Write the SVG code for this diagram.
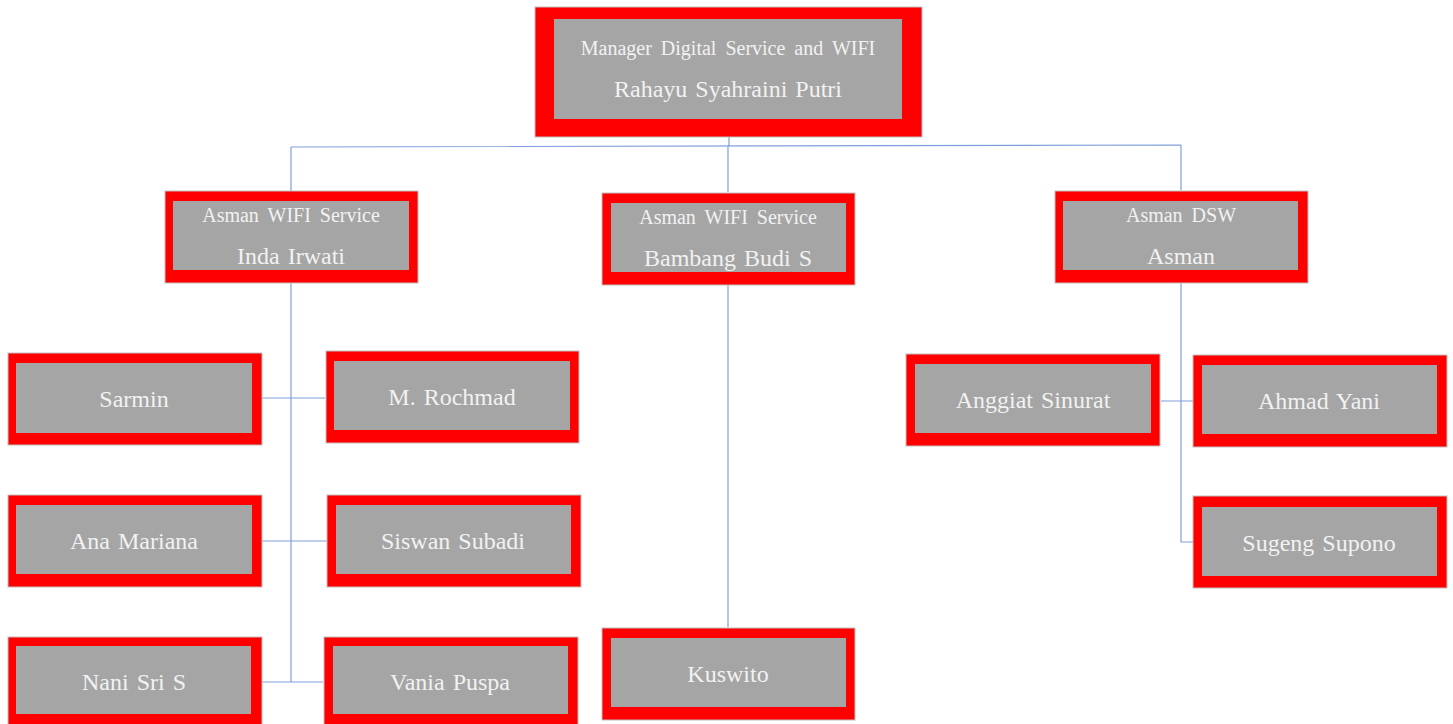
<svg xmlns="http://www.w3.org/2000/svg" width="1453" height="724" viewBox="0 0 1453 724">
<style>
.o{fill:#ff0000;stroke:#bfbfbf;stroke-width:1}
.i{fill:#a5a5a5}
.t{font-family:"Liberation Serif","Times New Roman",serif;fill:#f2f2f2;text-anchor:middle}
.s{font-size:20px;word-spacing:4px}
.n{font-size:24px;word-spacing:2px}
.c{fill:none;stroke:#7f9fdc;stroke-width:1.2}
</style>
<rect width="1453" height="724" fill="#ffffff"/>
<g id="connectors">
<path class="c" d="M729,137 V146 M291,147 L1181,145 M291,147 V191 M728,146 V192 M1181,145 V190"/>
<path class="c" d="M291,283 V682 M252,398 H325 M262,541 H327 M262,682 H323"/>
<path class="c" d="M728,285 V627"/>
<path class="c" d="M1181,283 V542 H1193 M1161,401 H1193"/>
</g>
<g id="manager">
<rect class="o" x="535" y="7" width="387" height="130"/>
<rect class="i" x="554" y="19" width="348" height="100"/>
<text class="t s" x="728" y="55">Manager Digital Service and WIFI</text>
<text class="t n" x="728" y="97">Rahayu Syahraini Putri</text>
</g>
<g id="inda">
<rect class="o" x="165" y="191" width="253" height="92"/>
<rect class="i" x="173" y="201" width="236" height="69"/>
<text class="t s" x="291" y="222">Asman WIFI Service</text>
<text class="t n" x="291" y="264">Inda Irwati</text>
</g>
<g id="bambang">
<rect class="o" x="602" y="193" width="253" height="92"/>
<rect class="i" x="611" y="203" width="235" height="69"/>
<text class="t s" x="728" y="224">Asman WIFI Service</text>
<text class="t n" x="728" y="266">Bambang Budi S</text>
</g>
<g id="asman">
<rect class="o" x="1055" y="191" width="253" height="92"/>
<rect class="i" x="1063" y="201" width="235" height="69"/>
<text class="t s" x="1181" y="222">Asman DSW</text>
<text class="t n" x="1181" y="264">Asman</text>
</g>
<g id="sarmin">
<rect class="o" x="8" y="353" width="254" height="92"/>
<rect class="i" x="16" y="363" width="236" height="70"/>
<text class="t n" x="134" y="407">Sarmin</text>
</g>
<g id="rochmad">
<rect class="o" x="326" y="351" width="253" height="92"/>
<rect class="i" x="334" y="361" width="236" height="69"/>
<text class="t n" x="452" y="405">M. Rochmad</text>
</g>
<g id="ana">
<rect class="o" x="8" y="495" width="254" height="92"/>
<rect class="i" x="16" y="505" width="236" height="69"/>
<text class="t n" x="134" y="549">Ana Mariana</text>
</g>
<g id="siswan">
<rect class="o" x="327" y="495" width="254" height="92"/>
<rect class="i" x="336" y="505" width="235" height="69"/>
<text class="t n" x="453" y="549">Siswan Subadi</text>
</g>
<g id="nani">
<rect class="o" x="8" y="637" width="254" height="92"/>
<rect class="i" x="16" y="646" width="235" height="68"/>
<text class="t n" x="134" y="690">Nani Sri S</text>
</g>
<g id="vania">
<rect class="o" x="324" y="637" width="254" height="92"/>
<rect class="i" x="333" y="646" width="235" height="68"/>
<text class="t n" x="450" y="690">Vania Puspa</text>
</g>
<g id="kuswito">
<rect class="o" x="602" y="628" width="253" height="92"/>
<rect class="i" x="611" y="638" width="235" height="69"/>
<text class="t n" x="728" y="682">Kuswito</text>
</g>
<g id="anggiat">
<rect class="o" x="906" y="354" width="254" height="92"/>
<rect class="i" x="915" y="364" width="236" height="69"/>
<text class="t n" x="1033" y="408">Anggiat Sinurat</text>
</g>
<g id="ahmad">
<rect class="o" x="1193" y="355" width="254" height="92"/>
<rect class="i" x="1202" y="365" width="235" height="69"/>
<text class="t n" x="1319" y="409">Ahmad Yani</text>
</g>
<g id="sugeng">
<rect class="o" x="1193" y="496" width="254" height="92"/>
<rect class="i" x="1202" y="507" width="235" height="69"/>
<text class="t n" x="1319" y="551">Sugeng Supono</text>
</g>
</svg>
